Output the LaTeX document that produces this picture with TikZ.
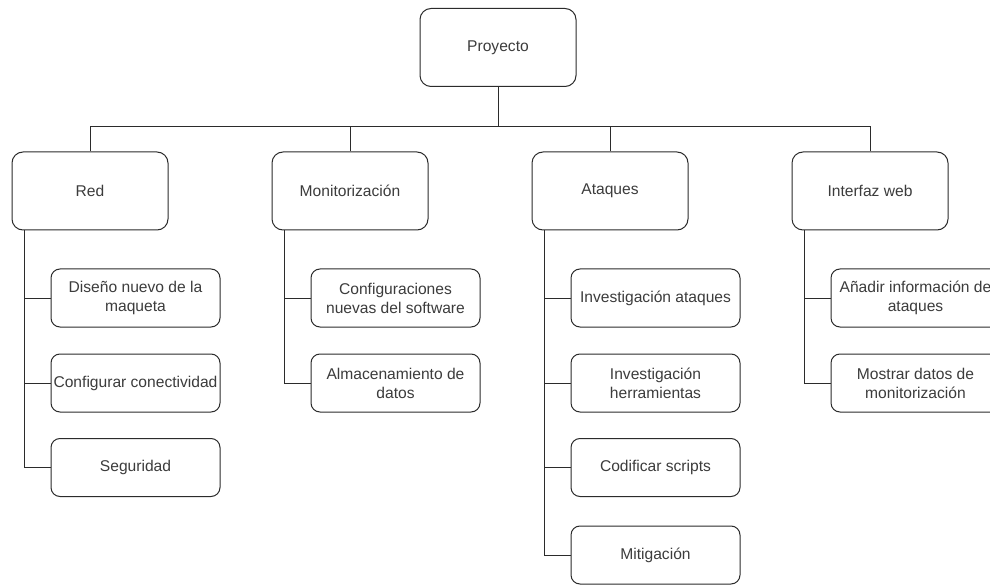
\documentclass[tikz,border=0pt]{standalone}
\usepackage{fontspec}
\setmainfont{Liberation Sans}
\definecolor{linegray}{HTML}{2B2B2B}
\definecolor{textgray}{HTML}{3C3C3C}
\begin{document}
\begin{tikzpicture}[x=1pt,y=-1pt,
  box/.style={draw=linegray, line width=1pt, fill=white, rounded corners=11pt,
    minimum width=156pt, minimum height=78pt, inner sep=0pt, align=center,
    text=textgray, font=\fontsize{15.6}{19}\selectfont},
  sub/.style={box, rounded corners=9pt, minimum width=169pt, minimum height=58pt},
  link/.style={draw=linegray, line width=1pt}]
\useasboundingbox (0,0) rectangle (990,585);
\clip (0,0) rectangle (990,585);

% root and first level
\node[box] (proj) at (498,47.5) {Proyecto};
\node[box] (red)  at (90,191)  {Red};
\node[box] (mon)  at (350,191) {Monitorización};
\node[box] (atq)  at (610,191) {Ataques};
\node[box] (web)  at (870,191) {Interfaz web};

% second level
\node[sub] (r1) at (135.5,298)   {Diseño nuevo de la\\maqueta};
\node[sub] (r2) at (135.5,383)   {Configurar conectividad};
\node[sub] (r3) at (135.5,467.5) {Seguridad};

\node[sub] (m1) at (395.5,298) {Configuraciones\\nuevas del software};
\node[sub] (m2) at (395.5,383) {Almacenamiento de\\datos};

\node[sub] (a1) at (655.5,298)   {Investigación ataques};
\node[sub] (a2) at (655.5,383)   {Investigación\\herramientas};
\node[sub] (a3) at (655.5,467.5) {Codificar scripts};
\node[sub] (a4) at (655.5,555)   {Mitigación};

\node[sub] (w1) at (915.5,298) {Añadir información de\\ataques};
\node[sub] (w2) at (915.5,383) {Mostrar datos de\\monitorización};

% bus from the root to the four branches
\coordinate (bus) at (0,126.5);
\foreach \t in {red,mon,atq,web}
  \draw[link] (proj.south) -- (proj.south |- bus) -| (\t.north);

% branch spines
\foreach \p/\c in {red/r1,red/r2,red/r3,mon/m1,mon/m2,atq/a1,atq/a2,atq/a3,atq/a4,web/w1,web/w2}
  \draw[link] ([xshift=13pt]\p.south west) |- (\c.west);
\end{tikzpicture}
\end{document}
